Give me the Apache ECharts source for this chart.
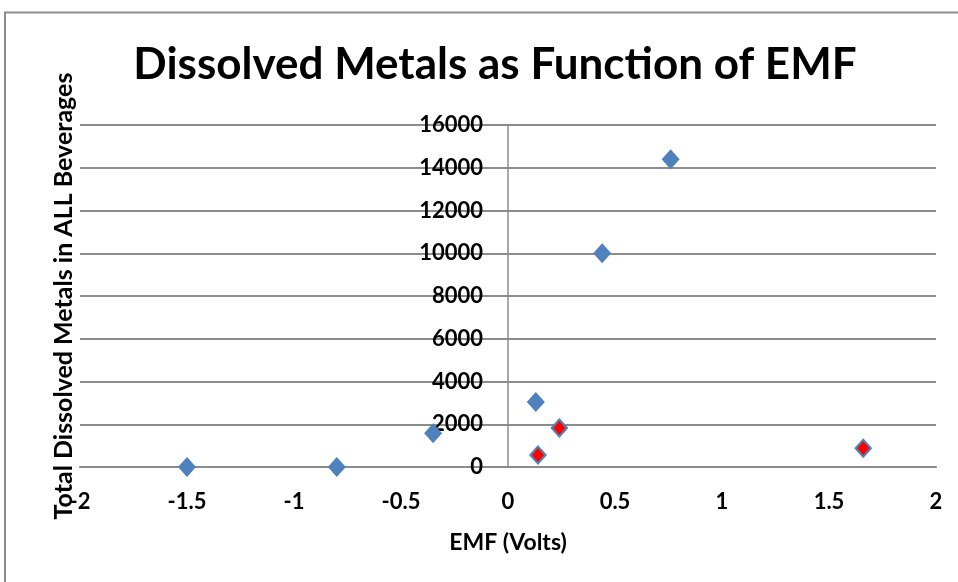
<!DOCTYPE html>
<html><head><meta charset="utf-8">
<script src="https://cdn.jsdelivr.net/npm/echarts@6/dist/echarts.min.js"></script>
<style>html,body{margin:0;padding:0;background:#fff}#c{width:958px;height:582px}</style>
</head><body><div id="c"></div>
<script>
const emf = [-1.5, -0.8, -0.35, 0.13, 0.14, 0.24, 0.44, 0.76, 1.66];
const metals = [0, 0, 1580, 3040, 560, 1820, 10000, 14400, 880];
const highlighted = [false, false, false, false, true, true, false, false, true];
const xTicks = [-2, -1.5, -1, -0.5, 0, 0.5, 1, 1.5, 2];
const yTicks = [0, 2000, 4000, 6000, 8000, 10000, 12000, 14000, 16000];

const FONT = 'Lato, "Open Sans", sans-serif';
const blueData = emf.map((x, i) => [x, metals[i]]);
const redData = emf.map((x, i) => [x, metals[i]]).filter((d, i) => highlighted[i]);

const W = 958, GL = 80, GR = 22;
const xMin = xTicks[0], xMax = xTicks[xTicks.length - 1];
const plotW = W - GL - GR;
const yAxisShift = plotW * (0 - xMin) / (xMax - xMin); // y axis crosses at x = 0

const chart = echarts.init(document.getElementById('c'), null, {renderer: 'canvas'});
chart.setOption({
  animation: false,
  backgroundColor: '#fff',
  title: {
    text: 'Dissolved Metals as Function of EMF',
    left: 490, top: 38, textAlign: 'center',
    textStyle: {fontFamily: FONT, fontWeight: 'bold', fontSize: 44, color: '#000'}
  },
  graphic: [{type: 'polyline', shape: {points: [[5, 582], [5, 12.5], [958, 12.5]]}, style: {stroke: '#8c8c8c', lineWidth: 2, fill: null}}],
  grid: {left: GL, right: GR, top: 125, bottom: 115, containLabel: false, outerBoundsMode: 'none'},
  xAxis: {
    type: 'value', min: xMin, max: xMax, interval: 0.5,
    name: 'EMF (Volts)', nameLocation: 'middle', nameGap: 64,
    nameTextStyle: {fontFamily: FONT, fontWeight: 'bold', fontSize: 23, color: '#000'},
    axisLine: {show: true, lineStyle: {color: '#8c8c8c', width: 2}},
    axisTick: {show: false},
    splitLine: {show: false},
    axisLabel: {fontFamily: FONT, fontWeight: 'bold', fontSize: 22, color: '#000', margin: 24,
      formatter: v => String(v)}
  },
  yAxis: {
    type: 'value', min: yTicks[0], max: yTicks[yTicks.length - 1], interval: 2000,
    offset: -yAxisShift,
    name: 'Total Dissolved Metals in ALL Beverages', nameLocation: 'middle', nameGap: 432,
    nameTextStyle: {fontFamily: FONT, fontWeight: 'bold', fontSize: 25, color: '#000'},
    axisLine: {show: true, onZero: false, lineStyle: {color: '#8c8c8c', width: 1.5}},
    axisTick: {show: false},
    splitLine: {show: true, lineStyle: {color: '#8c8c8c', width: 2}},
    axisLabel: {fontFamily: FONT, fontWeight: 'bold', fontSize: 22, color: '#000', margin: 25,
      formatter: v => String(v)}
  },
  series: [
    {type: 'scatter', data: blueData, symbol: 'diamond', symbolSize: [18, 20],
     itemStyle: {color: '#4f81bd', opacity: 1}, z: 3},
    {type: 'scatter', data: redData, symbol: 'diamond', symbolSize: [12, 14],
     itemStyle: {color: '#ff0000', opacity: 1}, z: 4}
  ]
});
</script></body></html>
